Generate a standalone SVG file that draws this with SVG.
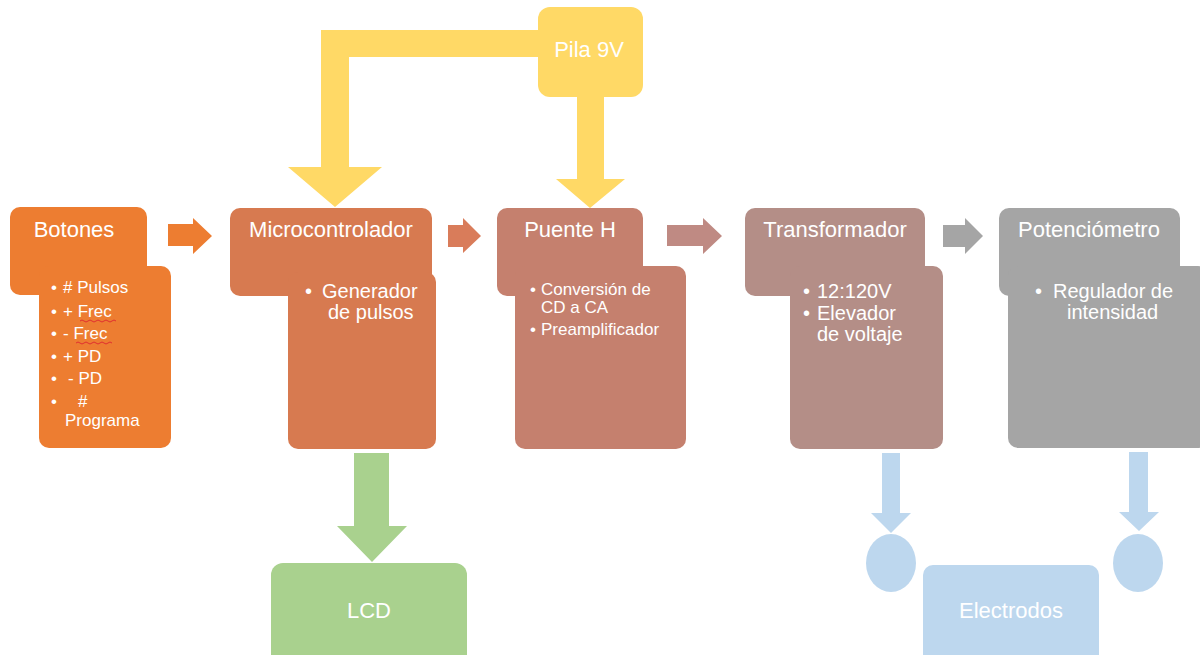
<svg xmlns="http://www.w3.org/2000/svg" width="1200" height="655" viewBox="0 0 1200 655">
<style>
text{font-family:"Liberation Sans",Arial,sans-serif;fill:#fff}
.t{font-size:22px;text-anchor:middle}
.b20{font-size:20px}
.b17{font-size:17px}
.sq{fill:none;stroke:#e03030;stroke-width:1}
</style>
<rect width="1200" height="655" fill="#fff"/>
<g id="botones">
<rect x="10" y="207" width="137" height="88" rx="10" fill="#ED7D31"/>
<rect x="39" y="266" width="132" height="182" rx="10" fill="#ED7D31"/>
<text class="t" x="74" y="237">Botones</text>
<g class="b17">
<text x="51" y="293">•</text><text x="63" y="293"># Pulsos</text>
<text x="51" y="317">•</text><text x="63" y="317">+ Frec</text>
<text x="51" y="339">•</text><text x="63" y="339">- Frec</text>
<text x="51" y="362">•</text><text x="63" y="362">+ PD</text>
<text x="51" y="384">•</text><text x="68" y="384">- PD</text>
<text x="51" y="407">•</text><text x="78" y="407">#</text>
<text x="65" y="426">Programa</text>
</g>
<path class="sq" d="M80 321 q2 -2 4 0 t4 0 t4 0 t4 0 t4 0 t4 0 t4 0 t4 0 t4 0"/>
<path class="sq" d="M76 343 q2 -2 4 0 t4 0 t4 0 t4 0 t4 0 t4 0 t4 0 t4 0 t4 0"/>
</g>
<g id="microcontrolador">
<rect x="230" y="208" width="202" height="88" rx="10" fill="#D77A50"/>
<rect x="288" y="272" width="148" height="177" rx="10" fill="#D77A50"/>
<text class="t" x="331" y="237">Microcontrolador</text>
<g class="b20">
<text x="305" y="298">•</text><text x="322" y="298">Generador</text>
<text x="328" y="319">de pulsos</text>
</g>
</g>
<g id="puente-h">
<rect x="497" y="208" width="146" height="88" rx="10" fill="#C5806E"/>
<rect x="515" y="266" width="171" height="183" rx="10" fill="#C5806E"/>
<text class="t" x="570" y="237">Puente H</text>
<g class="b17">
<text x="530" y="295">•</text><text x="541" y="295">Conversión de</text>
<text x="541" y="313">CD a CA</text>
<text x="530" y="335">•</text><text x="541" y="335">Preamplificador</text>
</g>
</g>
<g id="transformador">
<rect x="745" y="208" width="180" height="88" rx="10" fill="#B48E87"/>
<rect x="790" y="266" width="153" height="183" rx="10" fill="#B48E87"/>
<text class="t" x="835" y="237">Transformador</text>
<g class="b20">
<text x="803" y="298">•</text><text x="817" y="298">12:120V</text>
<text x="803" y="320">•</text><text x="817" y="320">Elevador</text>
<text x="817" y="341">de voltaje</text>
</g>
</g>
<g id="potenciometro">
<rect x="999" y="208" width="181" height="88" rx="10" fill="#A5A5A5"/>
<rect x="1008" y="266" width="200" height="182" rx="10" fill="#A5A5A5"/>
<text class="t" x="1089" y="237">Potenciómetro</text>
<g class="b20">
<text x="1035" y="298">•</text><text x="1053" y="298">Regulador de</text>
<text x="1067" y="319">intensidad</text>
</g>
</g>
<g id="pila-9v">
<rect x="538" y="7" width="105" height="90" rx="12" fill="#FFD966"/>
<text class="t" x="589" y="57">Pila 9V</text>
</g>
<g id="lcd">
<rect x="271" y="563" width="196" height="110" rx="12" fill="#A9D18E"/>
<text class="t" x="369" y="618">LCD</text>
</g>
<g id="electrodos">
<rect x="923" y="565" width="176" height="110" rx="10" fill="#BDD7EE"/>
<text class="t" x="1011" y="618">Electrodos</text>
<ellipse cx="891" cy="563" rx="25" ry="29" fill="#BDD7EE"/>
<ellipse cx="1138" cy="563" rx="25" ry="29" fill="#BDD7EE"/>
</g>
<g id="connectors">
<polygon points="168,224 193,224 193,218 212,236 193,254 193,246 168,246" fill="#ED7D31"/>
<polygon points="448,225 463,225 463,218 481,236 463,253 463,247 448,247" fill="#D97C5A"/>
<polygon points="667,225 703,225 703,218 722,236 703,254 703,246 667,246" fill="#BF8A83"/>
<polygon points="943,225 965,225 965,218 983,236 965,254 965,247 943,247" fill="#A5A5A5"/>
<path d="M538 30 L321 30 L321 167 L288 167 L335 207 L382 167 L349 167 L349 57 L538 57 Z" fill="#FFD966"/>
<polygon points="577,97 604,97 604,179 625,179 590,208 556,179 577,179" fill="#FFD966"/>
<polygon points="354,453 389,453 389,526 407,526 372,562 337,526 354,526" fill="#A9D18E"/>
<polygon points="882,453 900,453 900,513 911,513 891,533 871,513 882,513" fill="#BDD7EE"/>
<polygon points="1129,452 1148,452 1148,512 1159,512 1139,531 1119,512 1129,512" fill="#BDD7EE"/>
</g>
</svg>
